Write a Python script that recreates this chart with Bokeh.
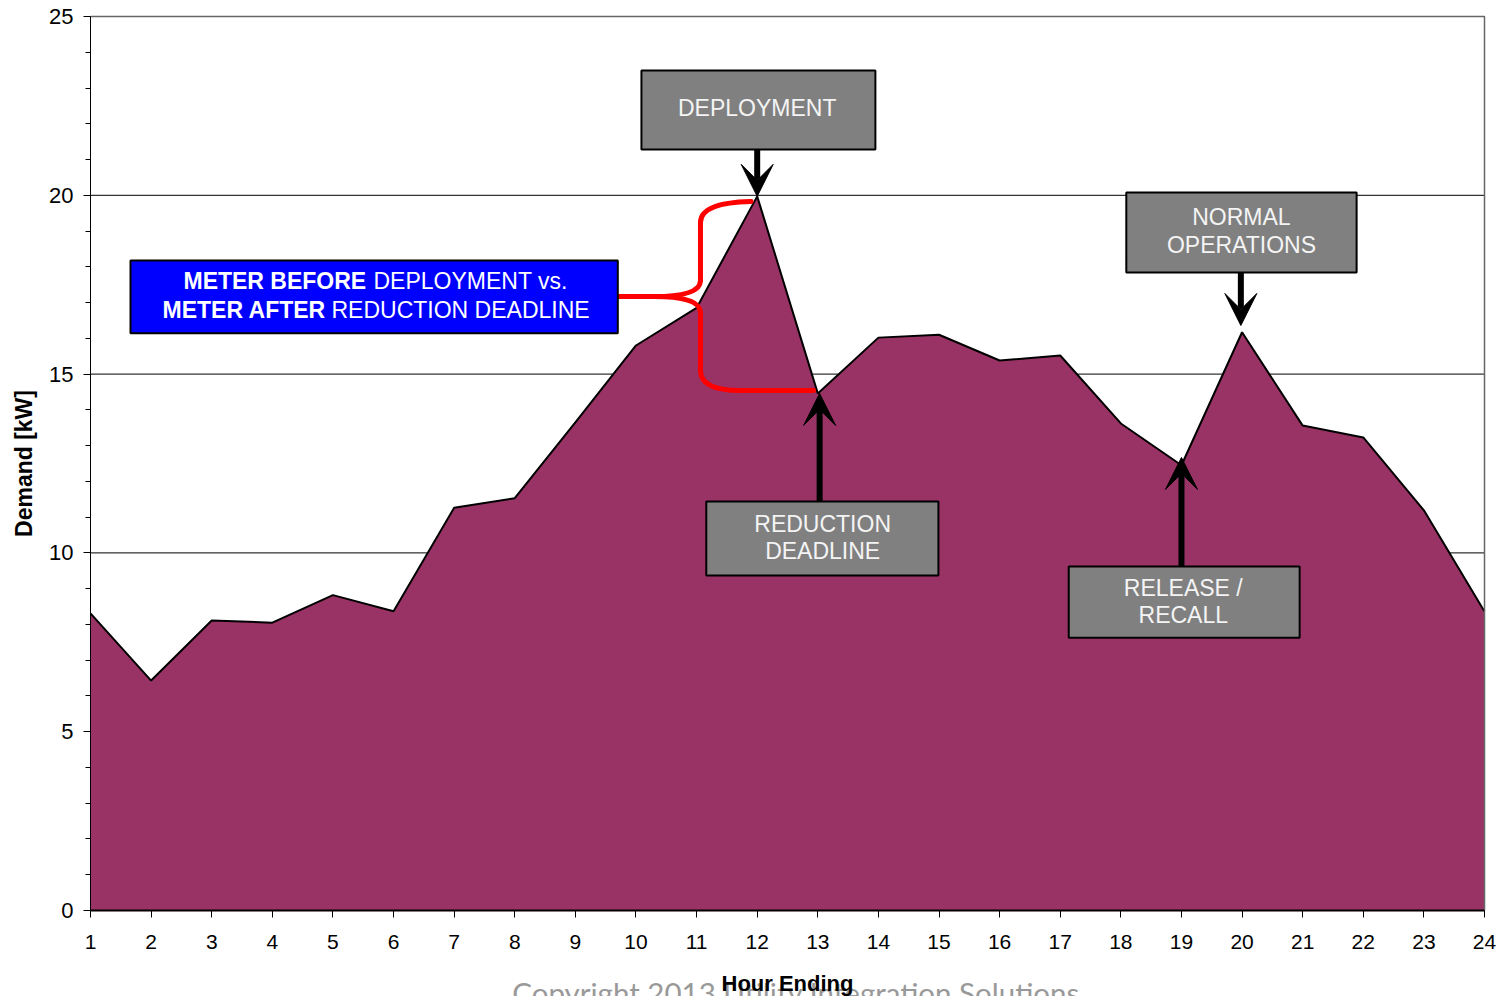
import math
from bokeh.plotting import figure
from bokeh.models import Range1d, FixedTicker, LinearAxis, Arrow, VeeHead
from bokeh.core.properties import value
from bokeh.embed import file_html
from bokeh.resources import INLINE

# Hourly demand profile (kW) for hours ending 1..24
hours = list(range(1, 25))
demand_kw = [8.31, 6.43, 8.11, 8.05, 8.82, 8.37, 11.26, 11.53, 13.65, 15.80,
             16.85, 19.97, 14.46, 16.02, 16.10, 15.38, 15.52, 13.62, 12.45,
             16.17, 13.56, 13.23, 11.19, 8.36]

x_tick_values = hours
y_major_ticks = [0, 5, 10, 15, 20, 25]
y_minor_ticks = list(range(0, 26))
grid_values = [5, 10, 15, 20]

FONT = "Liberation Sans"
AREA_COLOR = "#993366"
BOX_GRAY = "#808080"

# page geometry: the plotting area (hours 1..24, 0..25 kW) sits inside the
# page; the data frame covers the whole page so that the axes, their titles
# and the footer are all drawn at fixed data positions
W, H = 1503, 996
AREA_LEFT, AREA_RIGHT, AREA_TOP, AREA_BOTTOM = 90, 1484, 16, 910
px_per_hour = (AREA_RIGHT - AREA_LEFT) / (24 - 1)
px_per_kw = (AREA_BOTTOM - AREA_TOP) / 25
x_range = Range1d(1 - AREA_LEFT / px_per_hour, 24 + (W - AREA_RIGHT) / px_per_hour)
y_range = Range1d(-(H - AREA_BOTTOM) / px_per_kw, 25 + AREA_TOP / px_per_kw)

p = figure(width=W, height=H, x_range=x_range, y_range=y_range,
           x_axis_location=None, y_axis_location=None,
           output_backend="svg", toolbar_location=None,
           min_border_left=0, min_border_right=0,
           min_border_top=0, min_border_bottom=0)

p.background_fill_color = "white"
p.border_fill_color = "white"
p.outline_line_color = None
p.xgrid.visible = False
p.ygrid.visible = False

xaxis = LinearAxis(fixed_location=0, bounds=(1, 24),
                   ticker=FixedTicker(ticks=x_tick_values))
yaxis = LinearAxis(fixed_location=1, bounds=(0, 25),
                   ticker=FixedTicker(ticks=y_major_ticks, minor_ticks=y_minor_ticks))
p.add_layout(xaxis, "below")
p.add_layout(yaxis, "left")
for ax in (xaxis, yaxis):
    ax.axis_line_color = "black"
    ax.major_tick_line_color = "black"
    ax.major_tick_in = 0
    ax.major_tick_out = 7
    ax.major_label_text_font = FONT
    ax.major_label_text_color = "black"
xaxis.major_label_text_font_size = "21px"
yaxis.major_label_text_font_size = "22px"
xaxis.axis_line_width = 2
xaxis.minor_tick_line_color = None
yaxis.minor_tick_line_color = "black"
yaxis.minor_tick_in = 0
yaxis.minor_tick_out = 5
xaxis.major_label_standoff = 17
yaxis.major_label_standoff = 10

# horizontal grid lines across the plotting area
p.segment(x0=1, x1=24, y0=grid_values, y1=grid_values, line_color="black", line_width=1)

# copyright footer, with the axis titles on top of it
p.text(x=[12.70], y=[-2.293], text=["Copyright 2013 Utility Integration Solutions."],
       text_font=value("Lato"), text_font_size="29.5px", text_color="#999999",
       text_align="center", text_baseline="alphabetic")
p.text(x=[12.5], y=[-2.041], text=["Hour Ending"],
       text_font=value(FONT), text_font_size="22px", text_font_style="bold",
       text_color="black", text_align="center", text_baseline="middle")
p.text(x=[-0.09], y=[12.5], text=["Demand [kW]"], angle=math.pi / 2,
       text_font=value(FONT), text_font_size="23px", text_font_style="bold",
       text_color="black", text_align="center", text_baseline="middle")

# demand area
p.varea(x=hours, y1=0, y2=demand_kw, fill_color=AREA_COLOR)
p.line(x=hours, y=demand_kw, line_color="black", line_width=2)

# plot-area border, top and right sides
p.line(x=[1, 24, 24], y=[25, 25, 0], line_color="#666666", line_width=1.5)

# red brace linking the blue callout to the two meter readings
brace_lines_x = [[9.695, 10.289], [11.064, 11.064], [11.064, 11.064], [11.725, 12.929]]
brace_lines_y = [[17.17, 17.17], [17.62, 19.24], [16.72, 15.10], [14.54, 14.54]]
p.multi_line(xs=brace_lines_x, ys=brace_lines_y, line_color="red", line_width=5,
             line_cap="round")
p.quadratic(x0=[10.289, 11.064, 10.289, 11.064],
            y0=[17.17, 19.24, 17.17, 15.10],
            x1=[11.064, 11.90, 11.064, 11.725],
            y1=[17.62, 19.83, 16.72, 14.54],
            cx=[11.064, 11.064, 11.064, 11.064],
            cy=[17.17, 19.80, 17.17, 14.54],
            line_color="red", line_width=5, line_cap="round")

# arrows from the event boxes
arrows = [
    (12.0, 21.28, 12.0, demand_kw[11]),
    (19.98, 17.84, 19.98, 16.36),
    (13.03, 11.44, 13.03, demand_kw[12]),
    (19.0, 9.62, 19.0, 12.67),
]
for xs, ys, xe, ye in arrows:
    p.add_layout(Arrow(x_start=xs, y_start=ys, x_end=xe, y_end=ye,
                       line_color="black", line_width=6,
                       end=VeeHead(size=32, fill_color="black",
                                   line_color="black", line_width=1)))

# event boxes
p.quad(left=[10.09, 18.09, 11.16, 17.14],
       right=[13.95, 21.89, 14.99, 20.95],
       top=[23.49, 20.08, 11.44, 9.62],
       bottom=[21.28, 17.84, 9.37, 7.63],
       fill_color=BOX_GRAY, line_color="black", line_width=2)
p.text(x=[12.0, 19.99, 19.99, 13.08, 13.08, 19.03, 19.03],
       y=[22.43, 19.38, 18.60, 10.82, 10.04, 9.03, 8.25],
       text=["DEPLOYMENT", "NORMAL", "OPERATIONS", "REDUCTION", "DEADLINE",
             "RELEASE /", "RECALL"],
       text_font=value(FONT), text_font_size="23px", text_color="#f4f4f4",
       text_align="center", text_baseline="middle")

# blue callout
p.quad(left=[1.66], right=[9.70], top=[18.18], bottom=[16.14],
       fill_color="#0000ff", line_color="black", line_width=2)
p.text(x=[2.534, 2.188], y=[17.59, 16.78],
       text=["METER BEFORE", "METER AFTER"],
       text_font=value(FONT), text_font_size="23px", text_font_style="bold",
       text_color="white", text_align="left", text_baseline="middle")
p.text(x=[5.669, 4.976], y=[17.59, 16.78],
       text=["DEPLOYMENT vs.", "REDUCTION DEADLINE"],
       text_font=value(FONT), text_font_size="23px",
       text_color="white", text_align="left", text_baseline="middle")

open("out.html", "w").write(file_html(p, INLINE))
